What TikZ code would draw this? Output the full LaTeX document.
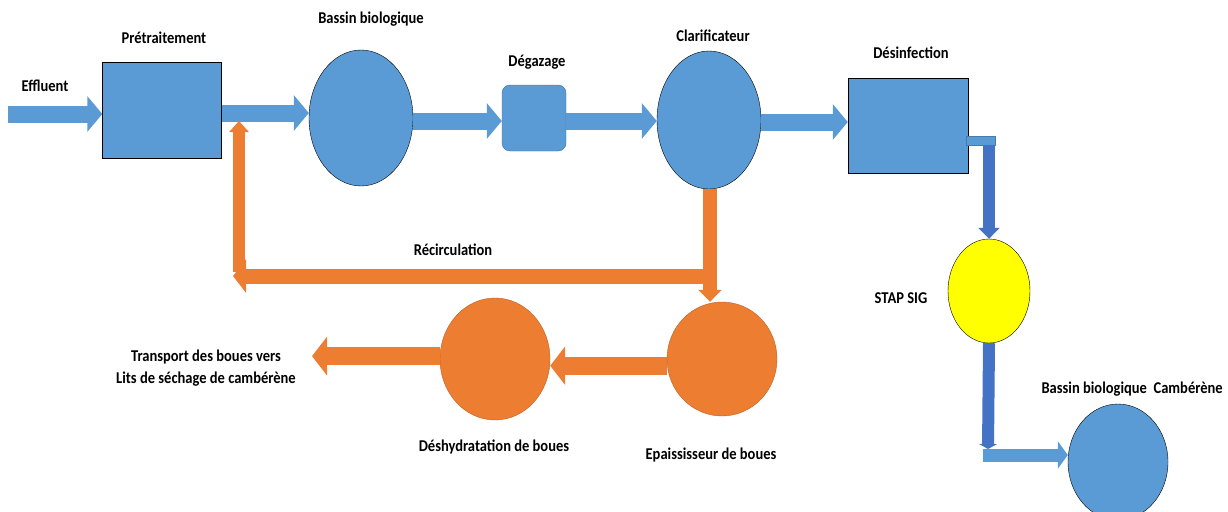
\documentclass[tikz,border=0pt]{standalone}
\usepackage{fontspec}
\setmainfont{Carlito}[FakeStretch=0.88]
\usetikzlibrary{arrows.meta,shapes.geometric}

\definecolor{bleu}{RGB}{91,155,213}
\definecolor{bleutrait}{RGB}{65,113,156}
\definecolor{bleufonce}{RGB}{68,114,196}
\definecolor{orangeb}{RGB}{237,125,49}
\definecolor{orangetrait}{RGB}{190,95,35}
\definecolor{jaune}{RGB}{255,255,0}

\begin{document}
\begin{tikzpicture}[x=1pt, y=-1pt, font=\bfseries\fontsize{16.5}{22}\selectfont,
  boite/.style={draw=black, fill=bleu, inner sep=0pt, minimum width=119pt, minimum height=96pt},
  bassin/.style={ellipse, draw=black, fill=bleu, inner sep=0pt},
  boue/.style={ellipse, draw=orangetrait, fill=orangeb, inner sep=0pt},
  fleche/.style={bleu, line width=17pt, -{Triangle[width=35pt,length=15pt]}},
  flechefonce/.style={bleufonce, line width=12pt, -{Triangle[width=21pt,length=11pt]}},
  flecheor/.style={orangeb, line width=15pt, -{Triangle[width=33pt,length=13pt]}}]

\useasboundingbox (0,0) rectangle (1228,511);

% ligne d'eau
\node[boite] (pre) at (162,110) {};
\node[bassin, minimum width=104pt, minimum height=136pt] (bb) at (361,118) {};
\node[draw=bleutrait, fill=bleu, rounded corners=8pt, inner sep=0pt,
      minimum width=64pt, minimum height=66pt] (deg) at (534,118) {};
\node[bassin, minimum width=104pt, minimum height=138pt] (clar) at (709,120) {};
\node[boite, minimum width=120pt, minimum height=95pt] (des) at (908,125.5) {};
\node[draw=bleu!80!black, fill=bleu, inner sep=0pt, minimum width=29pt,
      minimum height=9pt] (sortie) at (980.5,140.5) {};
\node[ellipse, draw=black, fill=jaune, inner sep=0pt, minimum width=82pt,
      minimum height=104pt] (stap) at (989,291) {};
\node[bassin, minimum width=100pt, minimum height=116pt] (camb) at (1118,462) {};

% ligne de boues
\node[boue, minimum width=110pt, minimum height=114pt] (epa) at (722,359) {};
\node[boue, minimum width=110pt, minimum height=122pt] (desh) at (495,359) {};

% textes
\node (leff) at (45,86) {Effluent};
\node (lpre) at (164,38) {Prétraitement};
\node (lbb) at (371,19) {Bassin biologique};
\node (ldeg) at (537,62) {Dégazage};
\node (lclar) at (713,36) {Clarificateur};
\node (ldes) at (911,53) {Désinfection};
\node (lstap) at (901,298) {STAP SIG};
\node[anchor=west] (lcamb) at (1038,389) {Bassin biologique\ \ Cambérène};
\node (lrec) at (453,250) {Récirculation};
\node (lepa) at (711,455) {Epaississeur de boues};
\node (ldesh) at (494,447) {Déshydratation de boues};
\node[align=center] (ltrans) at (206,368) {Transport des boues vers\\ Lits de séchage de cambérène};

% fleches eau
\coordinate (entree) at (8,114);
\draw[fleche] (entree) -- (entree -| pre.west);
\draw[fleche] (pre.east) ++(0,3) coordinate (p1) -- (p1 -| bb.west);
\draw[fleche] (bb.east) ++(0,3) coordinate (p2) -- (p2 -| deg.west);
\draw[fleche] (deg.east) ++(0,3) coordinate (p3) -- (p3 -| clar.west);
\draw[fleche] (clar.east) ++(0,2) coordinate (p4) -- (p4 -| des.west);
\coordinate (haut) at (sortie.south -| stap.north);
\draw[flechefonce] (haut) -- (stap.north);
\coordinate (coin) at (988,449);
\draw[flechefonce, -{Triangle[width=18pt,length=5pt]}] (stap.south) -- (coin);
\coordinate (coin2) at (983,455);
\draw[bleu, line width=13pt, -{Triangle[width=27pt,length=10pt]}] (coin2) -- (coin2 -| camb.west);

% fleches boues
\coordinate (rc1) at (717,276);
\coordinate (rc2) at (233,276);
\coordinate (rc3) at (239,272);
\coordinate (rc4) at (239,121);
\draw[orangeb, line width=12pt, -{Triangle[width=19pt,length=11pt]}] (rc3) -- (rc4);
\draw[flecheor] (rc1) -- (rc2);
\draw[flecheor, line width=14pt, -{Triangle[width=23pt,length=12pt]}] (clar.south) ++(1,0) coordinate (c1) -- (c1 |- epa.north);
\draw[flecheor, line width=18pt, -{Triangle[width=38pt,length=15pt]}] (epa.187) -- (epa.187 -| desh.east);
\draw[flecheor, line width=18pt, -{Triangle[width=38pt,length=15pt]}] (desh.177) -- (desh.177 -| 312,0);

\end{tikzpicture}
\end{document}
